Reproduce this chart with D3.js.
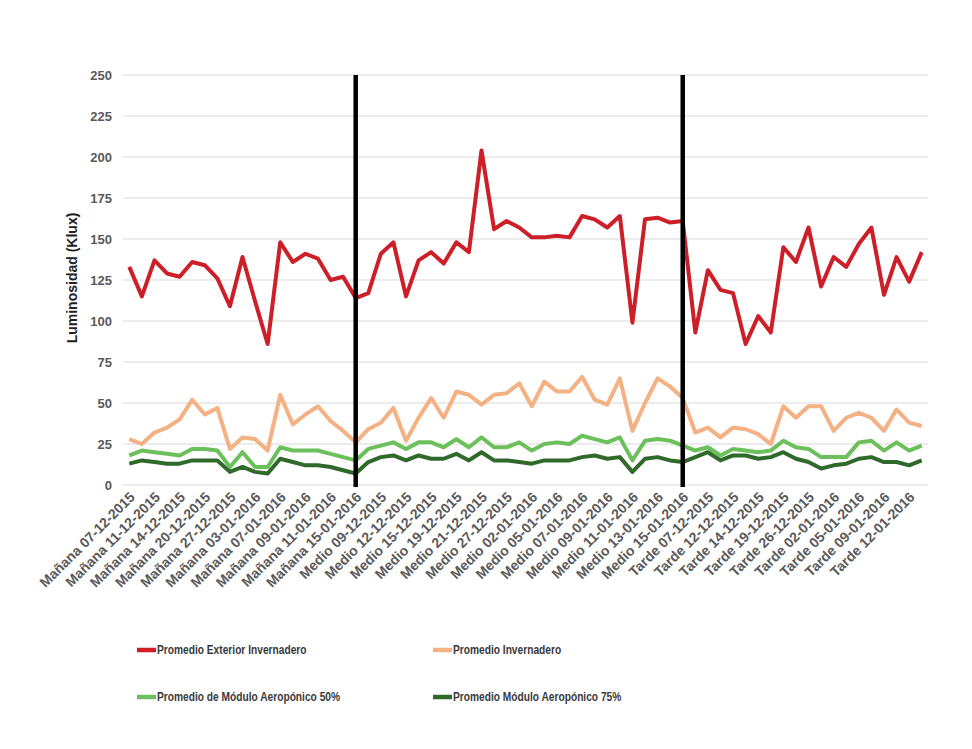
<!DOCTYPE html>
<html><head><meta charset="utf-8">
<script src="https://cdn.jsdelivr.net/npm/d3@7"></script>
<style>
html,body{margin:0;padding:0;background:#fff;}
svg{display:block;}
</style>
</head><body>
<svg id="chart" width="972" height="749"></svg>
<script>
const categories = [
"Mañana 07-12-2015","Mañana 09-12-2015","Mañana 11-12-2015","Mañana 12-12-2015","Mañana 14-12-2015","Mañana 17-12-2015","Mañana 20-12-2015","Mañana 23-12-2015","Mañana 27-12-2015","Mañana 30-12-2015",
"Mañana 03-01-2016","Mañana 05-01-2016","Mañana 07-01-2016","Mañana 08-01-2016","Mañana 09-01-2016","Mañana 10-01-2016","Mañana 11-01-2016","Mañana 13-01-2016","Mañana 15-01-2016","Medio 07-12-2015",
"Medio 09-12-2015","Medio 10-12-2015","Medio 12-12-2015","Medio 14-12-2015","Medio 15-12-2015","Medio 17-12-2015","Medio 19-12-2015","Medio 20-12-2015","Medio 21-12-2015","Medio 23-12-2015",
"Medio 27-12-2015","Medio 30-12-2015","Medio 02-01-2016","Medio 03-01-2016","Medio 05-01-2016","Medio 06-01-2016","Medio 07-01-2016","Medio 08-01-2016","Medio 09-01-2016","Medio 10-01-2016",
"Medio 11-01-2016","Medio 12-01-2016","Medio 13-01-2016","Medio 14-01-2016","Medio 15-01-2016","Medio 16-01-2016","Tarde 07-12-2015","Tarde 09-12-2015","Tarde 12-12-2015","Tarde 13-12-2015",
"Tarde 14-12-2015","Tarde 16-12-2015","Tarde 19-12-2015","Tarde 21-12-2015","Tarde 26-12-2015","Tarde 29-12-2015","Tarde 02-01-2016","Tarde 03-01-2016","Tarde 05-01-2016","Tarde 07-01-2016",
"Tarde 09-01-2016","Tarde 11-01-2016","Tarde 12-01-2016","Tarde 14-01-2016"
];
const exteriorInvernadero = [
133,115,137,129,127,136,134,126,109,139,
112,86,148,136,141,138,125,127,114,117,
141,148,115,137,142,135,148,142,204,156,
161,157,151,151,152,151,164,162,157,164,
99,162,163,160,161,93,131,119,117,86,
103,93,145,136,157,121,139,133,147,157,
116,139,124,142
];
const invernadero = [
28,25,32,35,40,52,43,47,22,29,
28,21,55,37,43,48,39,33,26,34,
38,47,27,41,53,41,57,55,49,55,
56,62,48,63,57,57,66,52,49,65,
33,50,65,60,53,32,35,29,35,34,
31,25,48,41,48,48,33,41,44,41,
33,46,38,36
];
const modulo50 = [
18,21,20,19,18,22,22,21,11,20,
11,11,23,21,21,21,19,17,15,22,
24,26,22,26,26,23,28,23,29,23,
23,26,21,25,26,25,30,28,26,29,
15,27,28,27,24,21,23,18,22,21,
20,21,27,23,22,17,17,17,26,27,
21,26,21,24
];
const modulo75 = [
13,15,14,13,13,15,15,15,8,11,
8,7,16,14,12,12,11,9,7,14,
17,18,15,18,16,16,19,15,20,15,
15,14,13,15,15,15,17,18,16,17,
8,16,17,15,14,17,20,15,18,18,
16,17,20,16,14,10,12,13,16,17,
14,14,12,15
];
const seriesNames = ["Promedio Exterior Invernadero","Promedio Invernadero","Promedio de Módulo Aeropónico 50%","Promedio Módulo Aeropónico 75%"];
const seriesColors = ["#cc1f27","#f4b183","#6cc05c","#2f6a2b"];
const yTicks = [0,25,50,75,100,125,150,175,200,225,250];
const separators = ["Mañana 15-01-2016","Medio 15-01-2016"];
const yTitle = "Luminosidad (Klux)";

(function () {
const series = [exteriorInvernadero, invernadero, modulo50, modulo75];

const svg = d3.select("#chart");
const pLeft = 123, pRight = 928, pTop = 75, pBottom = 485;

const x = d3.scalePoint().domain(categories).range([pLeft, pRight]).padding(0.5);
const y = d3.scaleLinear().domain([0, 250]).range([pBottom, pTop]);

// gridlines
svg.append("g").selectAll("line").data(yTicks).join("line")
  .attr("x1", pLeft).attr("x2", pRight)
  .attr("y1", d => y(d)).attr("y2", d => y(d))
  .attr("stroke", "#d9d9d9").attr("stroke-width", 1);

// y axis labels
const yAxis = d3.axisLeft(y).tickValues(yTicks).tickSize(0).tickPadding(0);
const gy = svg.append("g").attr("transform", `translate(${pLeft - 11},0)`).call(yAxis);
gy.select(".domain").remove();
gy.selectAll("text")
  .attr("font-family", "'Liberation Sans', Arial, sans-serif")
  .attr("font-size", "13px").attr("font-weight", "bold").attr("fill", "#595959");

// x axis labels
const xAxis = d3.axisBottom(x).tickSize(0).tickPadding(0)
  .tickFormat((d, i) => i % 2 === 0 ? d : "");
const gx = svg.append("g").attr("transform", `translate(0,${pBottom})`).call(xAxis);
gx.select(".domain").remove();
gx.selectAll("text")
  .attr("font-family", "'Liberation Sans', Arial, sans-serif")
  .attr("font-size", "14px").attr("font-weight", "bold").attr("fill", "#5a5a5a")
  .attr("text-anchor", "end")
  .attr("dy", null).attr("y", 0)
  .attr("transform", "translate(6,13) rotate(-45)");

// y title
svg.append("text")
  .attr("transform", `translate(77,${(pTop + pBottom) / 2 - 2}) rotate(-90)`)
  .attr("text-anchor", "middle")
  .attr("font-family", "'Liberation Sans', Arial, sans-serif")
  .attr("font-size", "14px").attr("font-weight", "bold").attr("fill", "#222")
  .text(yTitle);

// lines
const line = d3.line().x((d, i) => x(categories[i])).y(d => y(d));
svg.append("g").selectAll("path").data(series).join("path")
  .attr("d", d => line(d))
  .attr("fill", "none")
  .attr("stroke", (d, i) => seriesColors[i])
  .attr("stroke-width", 4)
  .attr("stroke-linejoin", "round");

// separators
svg.append("g").selectAll("line").data(separators).join("line")
  .attr("x1", d => x(d)).attr("x2", d => x(d))
  .attr("y1", pTop).attr("y2", pBottom + 2)
  .attr("stroke", "#000").attr("stroke-width", 4.5);

// legend
const legendPos = [[137, 650], [433, 650], [137, 697], [433, 697]];
const hScale = 0.85;
const lg = svg.append("g").selectAll("g").data(seriesNames).join("g")
  .attr("transform", (d, i) => `translate(${legendPos[i][0]},${legendPos[i][1]})`);
lg.append("line").attr("x1", 0).attr("x2", 19).attr("y1", 0).attr("y2", 0)
  .attr("stroke", (d, i) => seriesColors[i]).attr("stroke-width", 4.5);
lg.append("text").attr("x", 20 / hScale).attr("y", 0).attr("dy", "0.36em")
  .attr("transform", `scale(${hScale},1)`)
  .attr("font-family", "'Liberation Sans', Arial, sans-serif")
  .attr("font-size", "12px").attr("font-weight", "bold").attr("fill", "#3a3a3a")
  .text(d => d);
})();
</script>
</body></html>
